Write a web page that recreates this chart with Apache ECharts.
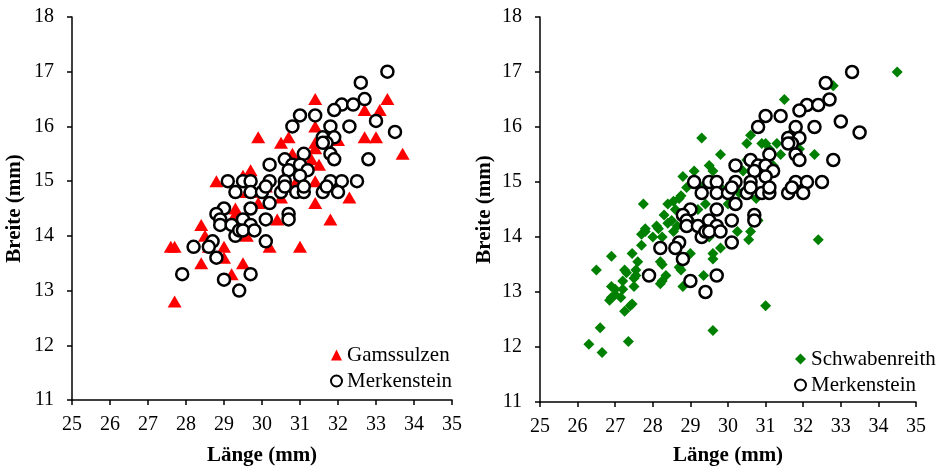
<!DOCTYPE html>
<html>
<head>
<meta charset="utf-8">
<script src="https://cdn.jsdelivr.net/npm/echarts@6/dist/echarts.min.js"></script>
<style>
  html, body { margin: 0; padding: 0; background: #fff; }
  #main { width: 941px; height: 467px; }
</style>
</head>
<body>
<div id="main"></div>
<script>
// Merkenstein (both panels)
var merkenstein = [
  [33.3,17.0],[32.6,16.8],[32.7,16.5],[32.1,16.4],[32.4,16.4],[31.9,16.3],[31.0,16.2],[31.4,16.2],
  [33.0,16.1],[30.8,16.0],[31.8,16.0],[32.3,16.0],[33.5,15.9],[31.6,15.8],[31.9,15.8],[31.7,15.7],
  [31.6,15.7],[31.8,15.5],[31.1,15.5],[31.9,15.4],[32.8,15.4],[30.6,15.4],[30.2,15.3],[30.8,15.3],
  [31.0,15.3],[30.7,15.2],[31.2,15.2],[31.0,15.1],[29.1,15.0],[29.5,15.0],[29.7,15.0],[30.2,15.0],
  [30.6,15.0],[31.8,15.0],[32.1,15.0],[32.5,15.0],[29.3,14.8],[29.7,14.8],[30.0,14.8],[30.1,14.9],
  [30.5,14.8],[30.9,14.8],[31.1,14.8],[31.6,14.8],[32.0,14.8],[31.7,14.9],[30.6,14.9],[31.1,14.9],
  [30.2,14.6],[29.0,14.5],[29.7,14.5],[28.8,14.4],[30.7,14.4],[30.7,14.3],[28.9,14.3],[29.5,14.3],
  [30.1,14.3],[28.9,14.2],[29.2,14.2],[29.7,14.2],[29.3,14.0],[29.4,14.1],[29.5,14.1],[29.8,14.1],
  [30.1,13.9],[28.7,13.9],[28.6,13.8],[28.2,13.8],[28.8,13.6],[27.9,13.3],[29.7,13.3],[29.0,13.2],
  [29.4,13.0]
];

// Gamssulzen (left panel)
var gamssulzen = [
  [31.4,16.5],[33.3,16.5],[32.7,16.3],[33.1,16.3],[31.4,16.0],[29.9,15.8],[30.7,15.8],[32.7,15.8],
  [33.0,15.8],[32.0,15.75],[30.5,15.7],[31.4,15.7],[31.4,15.6],[33.7,15.5],[30.8,15.5],[31.3,15.4],
  [31.5,15.3],[29.7,15.2],[29.5,15.1],[28.8,15.0],[31.4,15.0],[29.6,14.8],[30.5,14.7],[32.3,14.7],
  [31.4,14.6],[29.9,14.6],[29.3,14.5],[29.3,14.4],[30.4,14.3],[31.8,14.3],[29.0,14.3],[28.4,14.2],
  [28.5,14.0],[29.6,14.0],[27.6,13.8],[27.7,13.8],[29.0,13.8],[30.2,13.8],[31.0,13.8],[28.6,13.8],
  [28.4,13.5],[29.0,13.6],[29.5,13.5],[29.2,13.3],[27.7,12.8],[30.1,14.9],[30.6,15.1],[30.9,15.0],
  [29.7,14.8]
];

// Schwabenreith (right panel)
var schwabenreith = [
  [34.5,17.0],[32.8,16.75],[31.5,16.5],[29.3,15.8],[30.6,15.85],[30.5,15.7],[31.0,15.7],[31.3,15.7],
  [30.9,15.7],[31.9,15.6],[32.3,15.5],[31.4,15.5],[29.8,15.5],[29.5,15.3],[29.1,15.2],[29.6,15.2],
  [30.4,15.2],[30.6,15.2],[31.2,15.3],[28.8,15.1],[28.7,14.7],[28.75,14.75],[28.4,14.6],[27.75,14.6],
  [30.75,14.7],[28.55,14.65],[28.3,14.4],[28.4,14.25],[28.5,14.3],[28.65,14.2],[28.1,14.2],[28.15,14.15],
  [28.55,14.1],[27.8,14.15],[27.8,14.1],[27.7,14.05],[28.0,14.0],[28.25,14.0],[30.25,14.1],[30.6,14.1],
  [30.55,13.95],[32.4,13.95],[27.7,13.85],[29.0,13.7],[29.6,13.6],[29.8,13.8],[29.6,13.7],[26.9,13.65],
  [27.45,13.7],[27.6,13.55],[26.5,13.4],[28.25,13.5],[28.2,13.55],[28.7,13.45],[28.75,13.4],[29.35,13.3],
  [27.25,13.4],[27.55,13.4],[27.3,13.35],[27.5,13.25],[27.55,13.3],[28.2,13.15],[28.35,13.3],[28.25,13.2],
  [28.8,13.1],[26.9,13.1],[27.2,13.05],[27.5,13.1],[27.2,13.2],[27.0,13.05],[26.85,12.85],[26.9,12.9],
  [27.0,12.95],[27.15,12.9],[27.25,12.65],[27.4,12.75],[27.45,12.78],[31.0,12.75],[26.6,12.35],[29.6,12.3],
  [26.3,12.05],[27.35,12.1],[26.65,11.9],[29.8,14.9],[30.0,14.6],[30.5,15.4],[31.1,15.6],[31.7,15.9],
  [29.2,14.5],[29.4,14.6],[29.0,14.3],[29.5,14.0],[30.8,14.3],[30.3,14.8],[28.9,14.9],[29.3,14.9],
  [28.6,14.5]
];

var xTicks = [25, 35, 1];
var yTicks = [11, 18, 1];

var font = '"Liberation Serif", "Times New Roman", serif';

function xAxisFor(idx, gap) {
  return {
    gridIndex: idx, type: 'value', min: xTicks[0], max: xTicks[1], interval: xTicks[2],
    name: 'Länge (mm)', nameLocation: 'middle', nameGap: gap,
    nameTextStyle: { fontFamily: font, fontSize: 21, fontWeight: 'bold', color: '#000' },
    axisLine: { lineStyle: { color: '#000', width: 1.5 } },
    axisTick: { show: true, inside: false, length: 5, lineStyle: { color: '#000', width: 1.5 } },
    axisLabel: { fontFamily: font, fontSize: 20, color: '#000', margin: 15 },
    splitLine: { show: false }
  };
}
function yAxisFor(idx, gap) {
  return {
    gridIndex: idx, type: 'value', min: yTicks[0], max: yTicks[1], interval: yTicks[2],
    name: 'Breite (mm)', nameLocation: 'middle', nameGap: gap,
    nameTextStyle: { fontFamily: font, fontSize: 21, fontWeight: 'bold', color: '#000' },
    axisLine: { show: true, lineStyle: { color: '#000', width: 1.5 } },
    axisTick: { show: true, inside: false, length: 5, lineStyle: { color: '#000', width: 1.5 } },
    axisLabel: { fontFamily: font, fontSize: 20, color: '#000', margin: 18 },
    splitLine: { show: false }
  };
}

var circleStyle = { color: '#fff', borderColor: '#000', borderWidth: 2.5, opacity: 1 };

var myChart = echarts.init(document.getElementById('main'));
var option = {
  animation: false,
  backgroundColor: '#fff',
  grid: [
    { left: 72, top: 17, width: 380, height: 383, outerBoundsMode: 'none' },
    { left: 540, top: 17, width: 376, height: 385, outerBoundsMode: 'none' }
  ],
  xAxis: [xAxisFor(0, 45), xAxisFor(1, 43)],
  yAxis: [yAxisFor(0, 47), yAxisFor(1, 45)],
  legend: [
    {
      orient: 'vertical', left: 325, top: 339, itemWidth: 11, itemHeight: 11, itemGap: 4,
      textStyle: { fontFamily: font, fontSize: 21, color: '#000', lineHeight: 22 },
      data: ['Gamssulzen', { name: 'Merkenstein', icon: 'circle' }]
    },
    {
      orient: 'vertical', left: 789, top: 343, itemWidth: 11, itemHeight: 11, itemGap: 4,
      textStyle: { fontFamily: font, fontSize: 21, color: '#000', lineHeight: 22 },
      data: ['Schwabenreith', { name: 'Merkenstein ', icon: 'circle' }]
    }
  ],
  series: [
    {
      name: 'Gamssulzen', type: 'scatter', xAxisIndex: 0, yAxisIndex: 0,
      symbol: 'triangle', symbolSize: [14, 12],
      itemStyle: { color: '#ff0000', opacity: 1 }, data: gamssulzen
    },
    {
      name: 'Merkenstein', type: 'scatter', xAxisIndex: 0, yAxisIndex: 0,
      symbol: 'circle', symbolSize: 12,
      itemStyle: circleStyle, data: merkenstein
    },
    {
      name: 'Schwabenreith', type: 'scatter', xAxisIndex: 1, yAxisIndex: 1,
      symbol: 'diamond', symbolSize: 11,
      itemStyle: { color: '#008000', opacity: 1 }, data: schwabenreith
    },
    {
      name: 'Merkenstein ', type: 'scatter', xAxisIndex: 1, yAxisIndex: 1,
      symbol: 'circle', symbolSize: 12,
      itemStyle: circleStyle, data: merkenstein
    }
  ]
};
myChart.setOption(option);
</script>
</body>
</html>
